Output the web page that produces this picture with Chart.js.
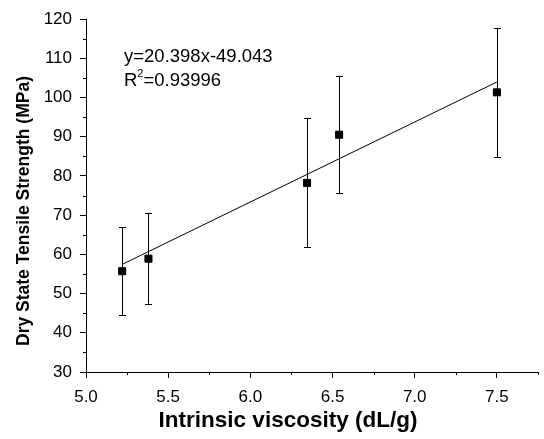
<!DOCTYPE html>
<html>
<head>
<meta charset="utf-8">
<script src="https://cdn.jsdelivr.net/npm/chart.js@4"></script>
<style>
  html, body { margin: 0; padding: 0; background: #fff; }
  #wrap { width: 544px; height: 439px; }
</style>
</head>
<body>
<div id="wrap"><canvas id="chart" width="544" height="439"></canvas></div>
<script>
// values
const viscosity = [5.22, 5.38, 6.345, 6.54, 7.5];
const strength = [55.7, 58.9, 78.2, 90.5, 101.3];
const errUpper = [66.9, 70.5, 94.7, 105.5, 117.7];
const errLower = [44.5, 47.4, 61.9, 75.6, 84.7];
const fitSlope = 20.398;
const fitIntercept = -49.043;
const fitText = "y=20.398x-49.043";
const r2Text = "=0.93996";
const xTitle = "Intrinsic viscosity (dL/g)";
const yTitle = "Dry State Tensile Strength (MPa)";

const FONT = "'Liberation Sans', Arial, sans-serif";

const fitStart = viscosity[0];
const fitEnd = viscosity[viscosity.length - 1];

const overlay = {
  id: "overlay",
  afterDatasetsDraw(chart) {
    const { ctx, scales: { x, y } } = chart;
    ctx.save();
    ctx.strokeStyle = "#000";
    ctx.lineWidth = 1;
    // error bars
    viscosity.forEach((v, i) => {
      const px = Math.round(x.getPixelForValue(v)) + 0.5;
      const top = y.getPixelForValue(errUpper[i]);
      const bot = y.getPixelForValue(errLower[i]);
      ctx.beginPath();
      ctx.moveTo(px, top); ctx.lineTo(px, bot);
      ctx.moveTo(px - 3.5, Math.round(top) + 0.5); ctx.lineTo(px + 3.5, Math.round(top) + 0.5);
      ctx.moveTo(px - 3.5, Math.round(bot) + 0.5); ctx.lineTo(px + 3.5, Math.round(bot) + 0.5);
      ctx.stroke();
    });
    // minor ticks
    const ca = chart.chartArea;
    ctx.beginPath();
    for (let v = 35; v < 120; v += 10) {
      const py = Math.round(y.getPixelForValue(v)) + 0.5;
      ctx.moveTo(ca.left, py); ctx.lineTo(ca.left - 3, py);
    }
    for (let v = 5.25; v <= 7.75; v += 0.5) {
      const px = Math.round(x.getPixelForValue(v)) + 0.5;
      ctx.moveTo(px, ca.bottom); ctx.lineTo(px, ca.bottom + 3);
    }
    ctx.stroke();
    // annotation
    ctx.fillStyle = "#000";
    ctx.textBaseline = "middle";
    ctx.textAlign = "left";
    ctx.font = "18.5px " + FONT;
    ctx.fillText(fitText, 124, 57);
    ctx.fillText("R", 124, 81);
    const rw = ctx.measureText("R").width;
    ctx.font = "11px " + FONT;
    ctx.fillText("2", 124 + rw, 74);
    const sw = ctx.measureText("2").width;
    ctx.font = "18.5px " + FONT;
    ctx.fillText(r2Text, 124 + rw + sw, 81);
    // axis titles
    ctx.font = "bold 22.5px " + FONT;
    ctx.textAlign = "center";
    ctx.fillText(xTitle, 288, 421);
    ctx.save();
    ctx.translate(24, 211);
    ctx.rotate(-Math.PI / 2);
    ctx.font = "bold 17.5px " + FONT;
    ctx.fillText(yTitle, 0, 0);
    ctx.restore();
    ctx.restore();
  }
};

new Chart(document.getElementById("chart"), {
  type: "scatter",
  data: {
    datasets: [
      {
        label: "Fit",
        type: "line",
        data: [
          { x: fitStart, y: fitSlope * fitStart + fitIntercept },
          { x: fitEnd, y: fitSlope * fitEnd + fitIntercept }
        ],
        borderColor: "#000",
        borderWidth: 1,
        pointRadius: 0,
        fill: false
      },
      {
        label: "Tensile strength",
        data: viscosity.map((v, i) => ({ x: v, y: strength[i] })),
        backgroundColor: "#000",
        borderColor: "#000",
        pointStyle: "rect",
        pointRadius: 5,
        pointHoverRadius: 5
      }
    ]
  },
  options: {
    responsive: false,
    animation: false,
    events: [],
    layout: { padding: { top: 19, right: 0, left: 0, bottom: 0 } },
    plugins: { legend: { display: false }, tooltip: { enabled: false } },
    scales: {
      x: {
        type: "linear",
        min: 5, max: 7.75,
        afterFit(s) { s.height = 67; },
        border: { display: true, color: "#000", width: 1 },
        grid: { drawOnChartArea: false, tickLength: 6, tickColor: "#000", tickWidth: 1 },
        ticks: {
          stepSize: 0.5,
          includeBounds: false,
          color: "#000",
          padding: 9,
          font: { family: FONT, size: 17 },
          maxRotation: 0,
          autoSkip: false,
          callback: (v) => v.toFixed(1)
        }
      },
      y: {
        min: 30, max: 120,
        afterFit(s) { s.width = 86; },
        border: { display: true, color: "#000", width: 1 },
        grid: { drawOnChartArea: false, tickLength: 6, tickColor: "#000", tickWidth: 1 },
        ticks: {
          stepSize: 10,
          color: "#000",
          padding: 8,
          font: { family: FONT, size: 17 },
          callback: (v) => String(v)
        }
      }
    }
  },
  plugins: [overlay]
});
</script>
</body>
</html>
